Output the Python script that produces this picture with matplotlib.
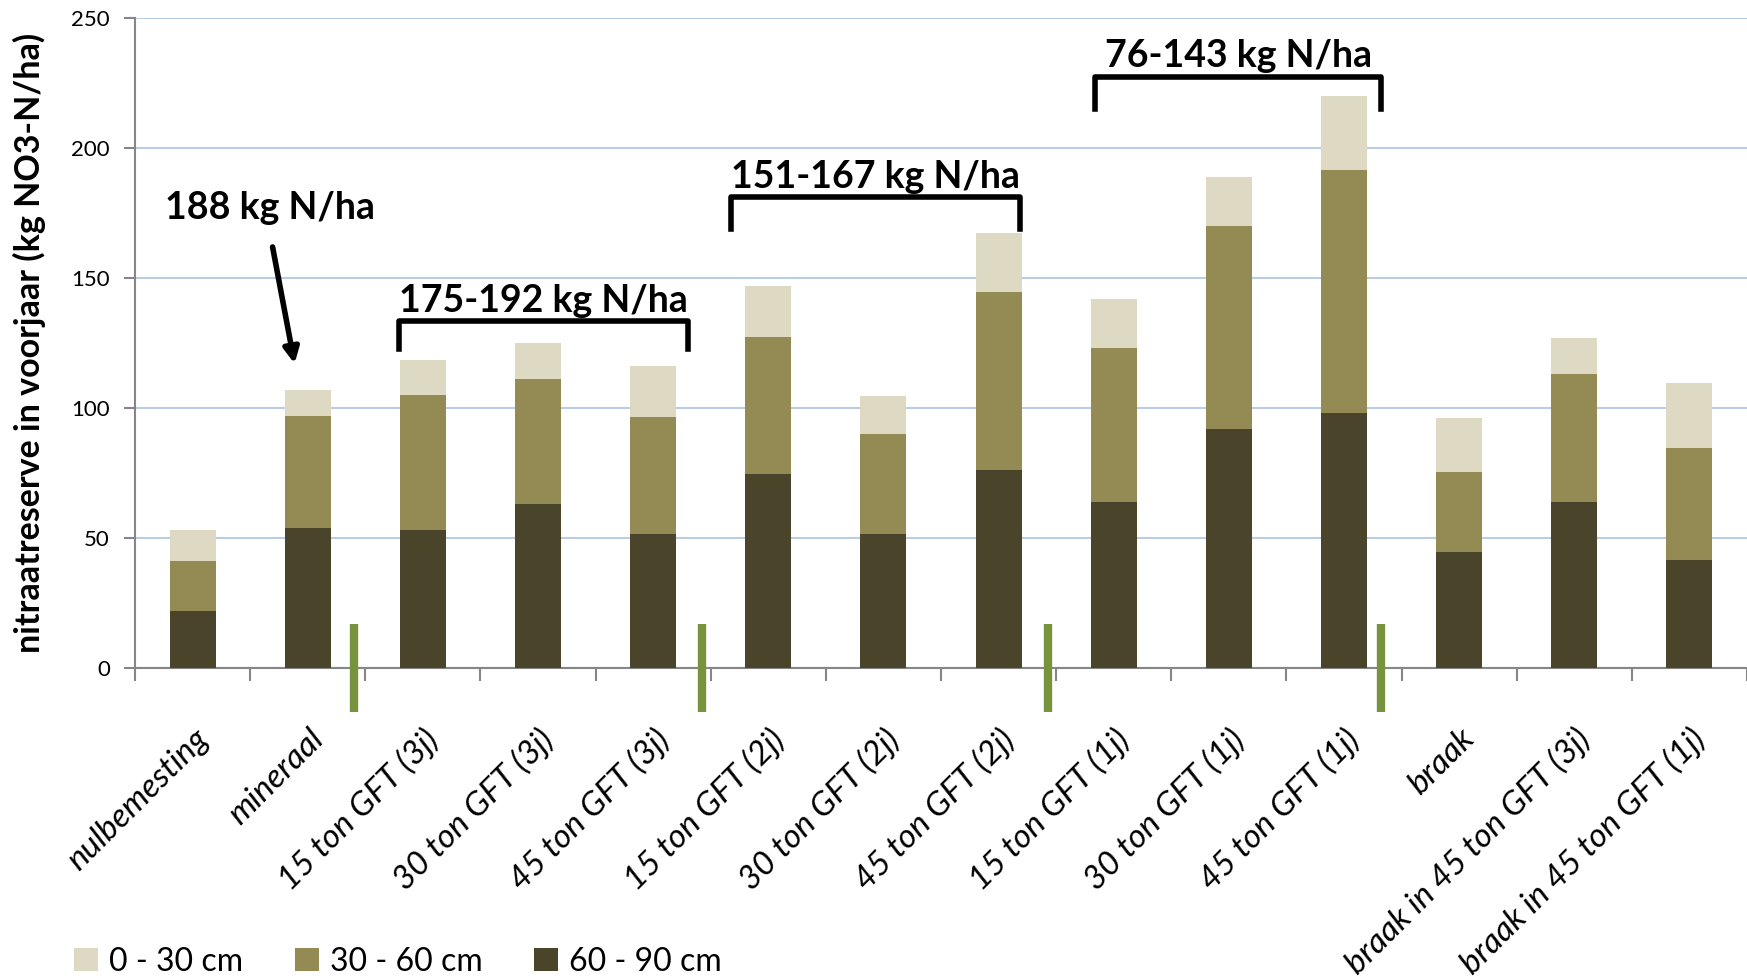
import matplotlib
matplotlib.use("Agg")
import matplotlib.pyplot as plt
import numpy as np

categories = ["nulbemesting", "mineraal", "15 ton GFT (3j)", "30 ton GFT (3j)", "45 ton GFT (3j)",
              "15 ton GFT (2j)", "30 ton GFT (2j)", "45 ton GFT (2j)", "15 ton GFT (1j)",
              "30 ton GFT (1j)", "45 ton GFT (1j)", "braak", "braak in 45 ton GFT (3j)",
              "braak in 45 ton GFT (1j)"]
# layer values (kg NO3-N/ha)
d60_90 = [22, 54, 53, 63, 51.5, 74.5, 51.5, 76, 64, 92, 98, 44.5, 64, 41.5]
d30_60 = [19, 43, 52, 48, 45, 53, 38.5, 68.5, 59, 78, 93.5, 31, 49, 43]
d0_30 = [12, 10, 13.5, 14, 19.5, 19.5, 14.5, 23, 19, 19, 28.5, 20.5, 14, 25]
legend_labels = ["0 - 30 cm", "30 - 60 cm", "60 - 90 cm"]
annotations = ["188 kg N/ha", "175-192 kg N/ha", "151-167 kg N/ha", "76-143 kg N/ha"]

plt.rcParams['font.family'] = ['Lato', 'DejaVu Sans']

c_light = "#DDD9C3"
c_mid = "#948A54"
c_dark = "#4A452A"

fig = plt.figure(figsize=(17.47, 9.8), dpi=100)
ax = fig.add_axes([0.0773, 0.3184, 0.9227, 0.6632])

x = np.arange(len(categories))
w = 0.4
b1 = ax.bar(x, d60_90, w, color=c_dark, label=legend_labels[2], zorder=3)
b2 = ax.bar(x, d30_60, w, bottom=d60_90, color=c_mid, label=legend_labels[1], zorder=3)
bot2 = np.array(d60_90) + np.array(d30_60)
b3 = ax.bar(x, d0_30, w, bottom=bot2, color=c_light, label=legend_labels[0], zorder=3)

ax.set_xlim(-0.5, len(categories) - 0.5)
ax.set_ylim(0, 250)
ax.set_yticks([0, 50, 100, 150, 200, 250])
ax.yaxis.grid(True, color="#B9CDE5", linewidth=1.5, zorder=0)
ax.set_axisbelow(True)
for s in ["top", "right"]:
    ax.spines[s].set_visible(False)
ax.spines["left"].set_color("#868686")
ax.spines["bottom"].set_color("#868686")
ax.spines["left"].set_linewidth(1.5)
ax.spines["bottom"].set_linewidth(1.5)

ax.tick_params(axis="y", labelsize=16, colors="#868686", labelcolor="black", length=8, width=1.5, pad=10)
# x ticks at category boundaries
ax.set_xticks(np.arange(-0.5, len(categories) + 0.5, 1.0))
ax.set_xticklabels([])
ax.tick_params(axis="x", length=9, width=1.5, colors="#868686")
ax.set_xticks(x, minor=True)
ax.set_xticklabels(categories, minor=True, rotation=45, ha="right", rotation_mode="anchor",
                   fontsize=24, fontstyle="italic")
ax.tick_params(axis="x", which="minor", length=0, pad=40)

ax.set_ylabel("nitraatreserve in voorjaar (kg NO3-N/ha)", fontsize=24.5, fontweight="bold", labelpad=18)

# green separators
for gx in [1.40, 4.42, 7.43, 10.32]:
    ax.plot([gx, gx], [-17, 17], color="#77933C", linewidth=6, solid_capstyle="butt",
            clip_on=False, zorder=4)

# annotations
ax.text(0.67, 177, annotations[0], fontsize=27, fontweight="bold", ha="center", va="center")
ax.annotate("", xy=(0.89, 116), xytext=(0.69, 163),
            arrowprops=dict(arrowstyle="-|>,head_length=0.9,head_width=0.45", color="black", lw=4))

def bracket(x0, x1, ytop, ybot, txt, ytxt):
    ax.plot([x0, x0, x1, x1], [ybot, ytop, ytop, ybot], color="black", lw=4,
            solid_joinstyle="round", zorder=5)
    ax.text((x0 + x1) / 2, ytxt, txt, fontsize=27, fontweight="bold", ha="center", va="center")

bracket(1.79, 4.30, 133.5, 122.5, annotations[1], 141)
bracket(4.68, 7.19, 181, 169, annotations[2], 189)
bracket(7.84, 10.32, 227.5, 215, annotations[3], 235.5)

handles = [b3, b2, b1]
fig.legend(handles, legend_labels, loc="lower left", bbox_to_anchor=(0.026, -0.026), ncol=3,
           frameon=False, fontsize=23, handlelength=0.75, handleheight=0.75, handletextpad=0.35,
           columnspacing=1.6)

fig.savefig("out.png", dpi=100)
